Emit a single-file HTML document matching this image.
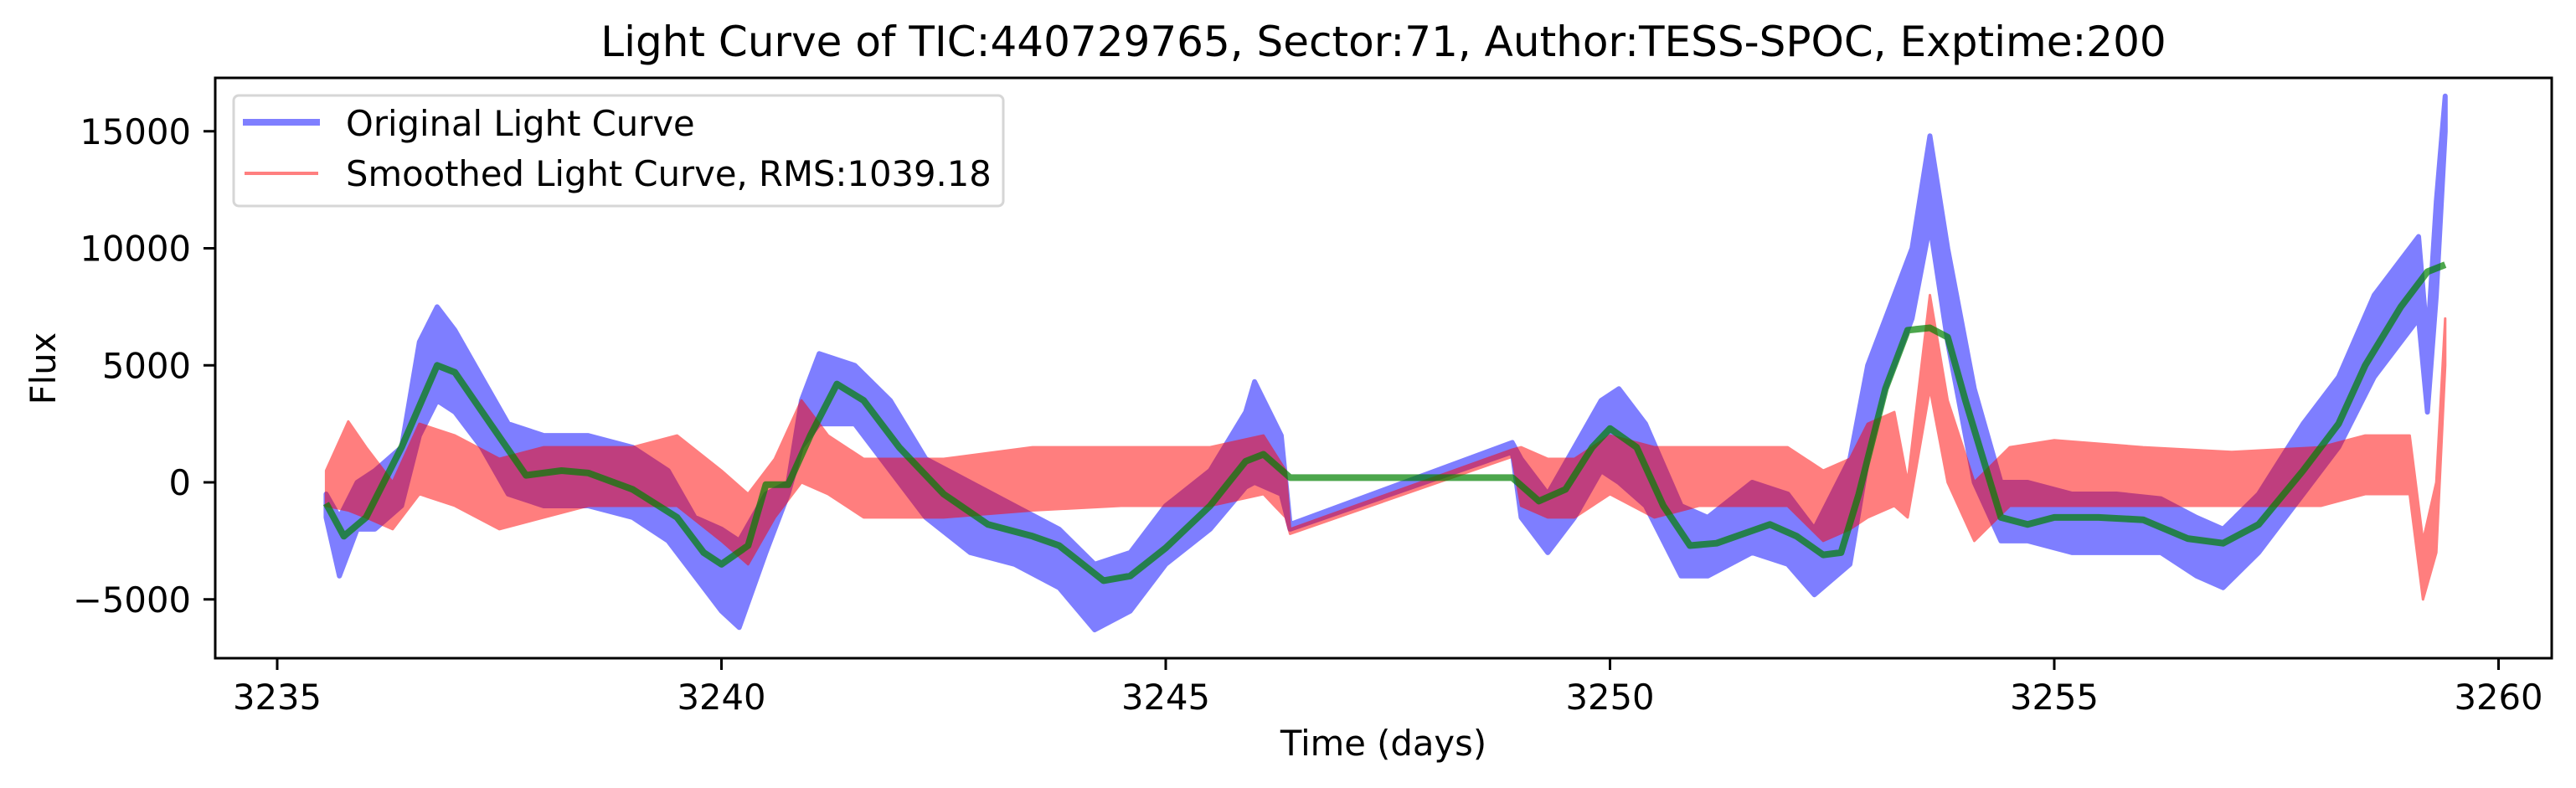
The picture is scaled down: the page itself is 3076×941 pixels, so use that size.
<!DOCTYPE html>
<html><head><meta charset="utf-8"><style>
html,body{margin:0;padding:0;background:#fff;}
svg{display:block;font-family:"DejaVu Sans","Liberation Sans",sans-serif;}
</style></head><body>
<svg id="chart" width="3076" height="941" viewBox="0 0 3076 941" xmlns="http://www.w3.org/2000/svg">
<rect x="0" y="0" width="3076" height="941" fill="#fff"/>
<g id="plot"></g>
<rect x="257" y="93" width="2790" height="693" fill="none" stroke="#000" stroke-width="3"/>
<g id="xticks"></g>
<g id="yticks"></g>
<text x="1652" y="67" font-size="50" text-anchor="middle">Light Curve of TIC:440729765, Sector:71, Author:TESS-SPOC, Exptime:200</text>
<text x="1652" y="902" font-size="41.7" text-anchor="middle">Time (days)</text>
<text x="0" y="0" font-size="41.7" text-anchor="middle" transform="translate(66,440) rotate(-90)">Flux</text>
<g>
<rect x="279" y="114" width="919" height="132" rx="6" fill="#fff" fill-opacity="0.8" stroke="#d6d6d6" stroke-width="3"/>
<line x1="290" y1="146" x2="382" y2="146" stroke="#0000ff" stroke-opacity="0.5" stroke-width="8"/>
<text x="413" y="162" font-size="41.7">Original Light Curve</text>
<line x1="292" y1="207" x2="380" y2="207" stroke="#ff0000" stroke-opacity="0.5" stroke-width="4"/>
<text x="413" y="222" font-size="41.7">Smoothed Light Curve, RMS:1039.18</text>
</g>
</svg>
<script>
const xTickValues = [3235, 3240, 3245, 3250, 3255, 3260];
const yTickValues = [-5000, 0, 5000, 10000, 15000];
const yTickLabels = ["\u22125000", "0", "5000", "10000", "15000"];

const blueT  = [3235.55,3235.7,3235.9,3236.1,3236.4,3236.6,3236.8,3237.0,3237.3,3237.6,3238.0,3238.5,3239.0,3239.4,3239.7,3240.0,3240.2,3240.5,3240.75,3240.9,3241.1,3241.5,3241.9,3242.3,3242.8,3243.3,3243.8,3244.2,3244.6,3245.0,3245.5,3245.9,3246.0,3246.3,3246.4,3248.9,3249.0,3249.3,3249.6,3249.9,3250.1,3250.4,3250.8,3251.1,3251.6,3252.0,3252.3,3252.7,3252.9,3253.1,3253.4,3253.6,3253.8,3254.1,3254.4,3254.7,3255.2,3255.7,3256.2,3256.6,3256.9,3257.3,3257.8,3258.2,3258.6,3258.9,3259.1,3259.2,3259.3,3259.4];
const blueLo = [-1500,-4000,-2000,-2000,-1000,2000,3500,3000,1500,-500,-1000,-1000,-1500,-2500,-4000,-5500,-6200,-3000,-500,1500,2500,2500,500,-1500,-3000,-3500,-4500,-6300,-5500,-3500,-2000,-200,0,-500,-2000,1300,-1500,-3000,-1500,500,0,-1000,-4000,-4000,-3000,-3500,-4800,-3500,1000,4000,7000,11000,6000,0,-2500,-2500,-3000,-3000,-3000,-4000,-4500,-3000,-500,1500,4500,6000,7000,3000,8000,15000];
const blueHi = [-500,-1500,0,500,1500,6000,7500,6500,4500,2500,2000,2000,1500,500,-1500,-2000,-2500,-500,0,3500,5500,5000,3500,1000,0,-1000,-2000,-3500,-3000,-1000,500,3000,4300,2000,-1800,1700,1000,-500,1500,3500,4000,2500,-1000,-1500,0,-500,-2000,1000,5000,7000,10000,14800,10000,4000,0,0,-500,-500,-700,-1500,-2000,-500,2500,4500,8000,9500,10500,6000,12000,16500];

const redT  = [3235.55,3235.8,3236.0,3236.3,3236.6,3237.0,3237.5,3238.0,3238.5,3239.0,3239.5,3240.0,3240.3,3240.6,3240.9,3241.2,3241.6,3242.5,3243.5,3244.5,3245.5,3246.1,3246.35,3246.4,3248.9,3249.0,3249.3,3249.6,3250.0,3250.5,3251.0,3252.0,3252.4,3252.7,3252.9,3253.2,3253.35,3253.6,3253.8,3254.1,3254.5,3255.0,3256.0,3257.0,3258.0,3258.5,3259.0,3259.15,3259.3,3259.4];
const redLo = [-1000,-1200,-1500,-2000,-500,-1000,-2000,-1500,-1000,-1000,-1000,-2500,-3500,-1500,0,-500,-1500,-1500,-1200,-1000,-1000,-500,-1500,-2200,1100,-1000,-1500,-1500,-500,-1500,-1000,-1000,-2500,-2000,-1500,-1000,-1500,4000,0,-2500,-1000,-1000,-1000,-1000,-1000,-500,-500,-5000,-3000,5000];
const redHi = [500,2600,1500,0,2500,2000,1000,1500,1500,1500,2000,500,-500,1000,3500,2000,1000,1000,1500,1500,1500,2000,500,-2000,1400,1500,1000,1000,2000,1500,1500,1500,500,1000,2500,3000,0,8000,3500,0,1500,1800,1500,1300,1500,2000,2000,-2500,0,7000];

const trendT = [3235.55,3235.75,3236.0,3236.4,3236.8,3237.0,3237.4,3237.8,3238.2,3238.5,3239.0,3239.5,3239.8,3240.0,3240.3,3240.5,3240.75,3241.0,3241.3,3241.6,3242.0,3242.5,3243.0,3243.5,3243.8,3244.3,3244.6,3245.0,3245.5,3245.9,3246.1,3246.4,3248.9,3249.2,3249.5,3249.8,3250.0,3250.3,3250.6,3250.9,3251.2,3251.5,3251.8,3252.1,3252.4,3252.6,3252.8,3253.1,3253.35,3253.6,3253.8,3254.0,3254.4,3254.7,3255.0,3255.5,3256.0,3256.5,3256.9,3257.3,3257.8,3258.2,3258.5,3258.9,3259.2,3259.4];
const trendV = [-900,-2300,-1500,1500,5000,4700,2500,300,500,400,-300,-1500,-3000,-3500,-2700,-100,-100,2000,4200,3500,1500,-500,-1800,-2300,-2700,-4200,-4000,-2800,-1000,900,1200,200,200,-800,-300,1500,2300,1500,-1000,-2700,-2600,-2200,-1800,-2300,-3100,-3000,-500,4000,6500,6600,6200,3500,-1500,-1800,-1500,-1500,-1600,-2400,-2600,-1800,500,2500,5000,7500,9000,9300];

const NS = "http://www.w3.org/2000/svg";
function xs(t){ return 331 + (t - 3235) * 106.1; }
function ys(v){ return 576 - v * 0.02795; }
const plot = document.getElementById('plot');

function band(T, lo, hi, color, sw, name){
  const g = document.createElementNS(NS,'g');
  g.setAttribute('opacity','0.5');
  
  
  const pts = [];
  for (let i=0;i<T.length;i++) pts.push(xs(T[i]).toFixed(1)+','+ys(hi[i]).toFixed(1));
  for (let i=T.length-1;i>=0;i--) pts.push(xs(T[i]).toFixed(1)+','+ys(lo[i]).toFixed(1));
  const p = document.createElementNS(NS,'polygon');
  p.setAttribute('points', pts.join(' '));
  p.setAttribute('fill', color);
  p.setAttribute('stroke', color);
  p.setAttribute('stroke-width', sw);
  p.setAttribute('stroke-linejoin', 'round');
  
  
  g.appendChild(p);
  plot.appendChild(g);
}
band(blueT, blueLo, blueHi, '#0000ff', 6, 'original-light-curve');
band(redT, redLo, redHi, '#ff0000', 3, 'smoothed-light-curve');

const tl = document.createElementNS(NS,'polyline');
tl.setAttribute('points', trendT.map((t,i)=>xs(t).toFixed(1)+','+ys(trendV[i]).toFixed(1)).join(' '));
tl.setAttribute('fill','none');
tl.setAttribute('stroke','#008000');
tl.setAttribute('stroke-opacity','0.7');
tl.setAttribute('stroke-width','8');
tl.setAttribute('stroke-linejoin','round');


plot.appendChild(tl);

const xg = document.getElementById('xticks');
xTickValues.forEach(v=>{
  const x = xs(v);
  const l = document.createElementNS(NS,'line');
  l.setAttribute('x1',x); l.setAttribute('x2',x); l.setAttribute('y1',786); l.setAttribute('y2',800);
  l.setAttribute('stroke','#000'); l.setAttribute('stroke-width','3');
  
  
  xg.appendChild(l);
  const t = document.createElementNS(NS,'text');
  t.setAttribute('x',x); t.setAttribute('y',847); t.setAttribute('font-size','41.7'); t.setAttribute('text-anchor','middle');
  t.textContent = String(v);
  
  
  xg.appendChild(t);
});
const yg = document.getElementById('yticks');
yTickValues.forEach((v,i)=>{
  const y = ys(v);
  const l = document.createElementNS(NS,'line');
  l.setAttribute('x1',243); l.setAttribute('x2',257); l.setAttribute('y1',y); l.setAttribute('y2',y);
  l.setAttribute('stroke','#000'); l.setAttribute('stroke-width','3');
  
  
  yg.appendChild(l);
  const t = document.createElementNS(NS,'text');
  t.setAttribute('x',228); t.setAttribute('y',y+15); t.setAttribute('font-size','41.7'); t.setAttribute('text-anchor','end');
  t.textContent = yTickLabels[i];
  
  
  yg.appendChild(t);
});
</script>
</body></html>
